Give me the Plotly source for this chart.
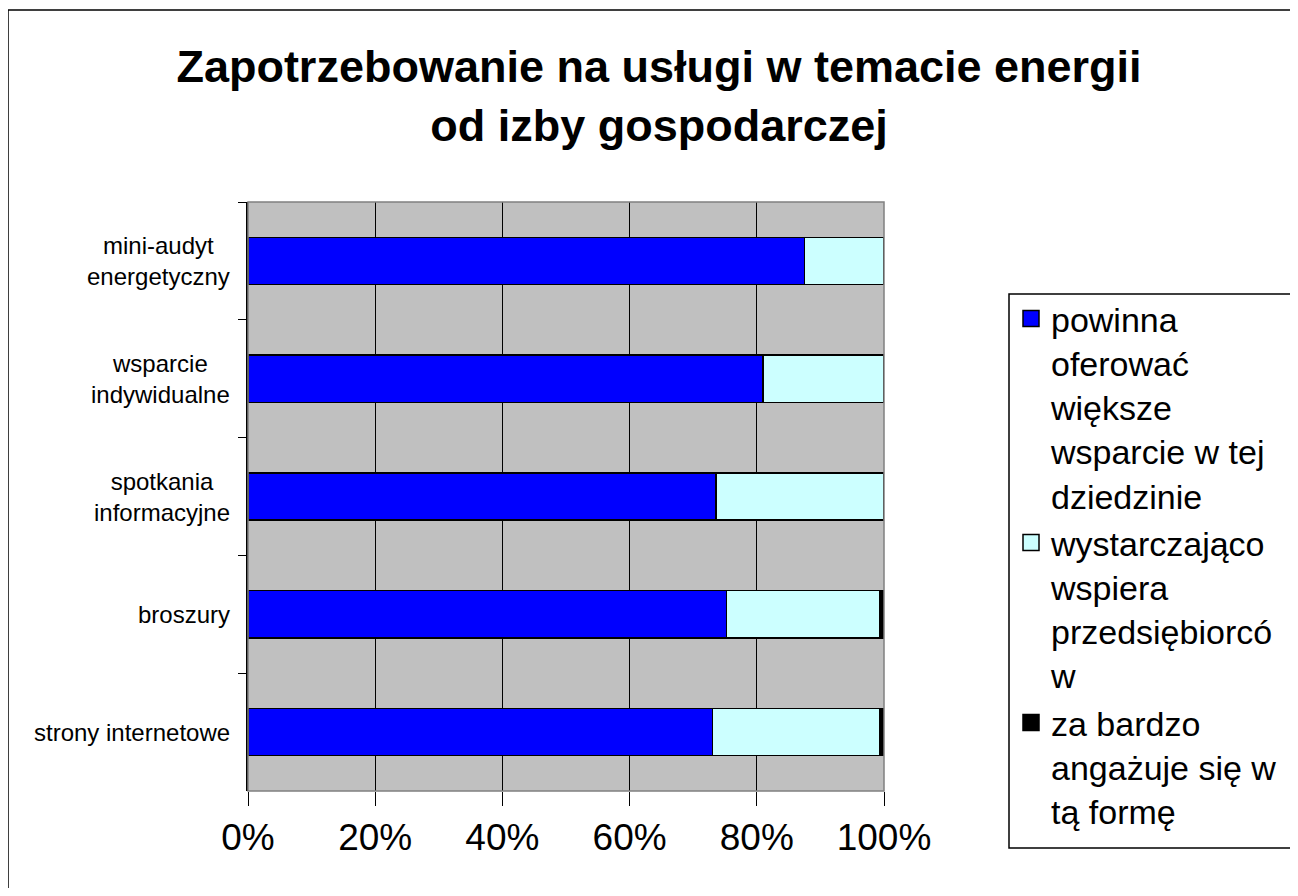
"""Zapotrzebowanie na usługi w temacie energii - horizontal 100% stacked bar."""

import plotly.graph_objects as go

categories = [
    "mini-audyt<br>energetyczny",
    "wsparcie<br>indywidualne",
    "spotkania<br>informacyjne",
    "broszury",
    "strony internetowe",
]
powinna = [87.5, 81.0, 73.6, 75.2, 73.0]
wystarczajaco = [12.5, 19.0, 26.4, 24.2, 26.4]
za_bardzo = [0.0, 0.0, 0.0, 0.6, 0.6]

series_names = [
    "powinna<br>oferować<br>większe<br>wsparcie w tej<br>dziedzinie",
    "wystarczająco<br>wspiera<br>przedsiębiorcó<br>w",
    "za bardzo<br>angażuje się w<br>tą formę",
]
series_colors = ["#0000FF", "#CCFFFF", "#000000"]

FONT = "Liberation Sans, Arial, sans-serif"

# page body adds an 8px margin, so targets are measured on screen and shifted back;
# the figure is shrunk so the page does not scroll
OFF = 8
W, H = 1298 - OFF, 896 - 2 * OFF
PL, PR, PT, PB = 248 - OFF, 884 - OFF, 202 - OFF, 791 - OFF


def px_x(px: float) -> float:
    return (px - OFF - PL) / (PR - PL)


def px_y(py: float) -> float:
    return (PB - (py - OFF)) / (PB - PT)


fig = go.Figure()
for values, color in zip([powinna, wystarczajaco, za_bardzo], series_colors):
    fig.add_trace(
        go.Bar(
            y=categories,
            x=values,
            orientation="h",
            showlegend=False,
            marker={"color": color, "line": {"color": "#000000", "width": 1.5}},
        )
    )

# legend entries with bigger square swatches than the bar default
for name, color in zip(series_names, series_colors):
    fig.add_trace(
        go.Scatter(
            x=[None],
            y=[None],
            mode="markers",
            name=name,
            marker={"symbol": "square", "size": 16, "color": color, "line": {"color": "#000000", "width": 1.5}},
        )
    )

# category labels, centred line by line like the original
for cat in categories:
    fig.add_annotation(
        x=0,
        xref="paper",
        y=cat,
        yref="y",
        text=cat,
        showarrow=False,
        xanchor="right",
        xshift=-16,
        align="center",
        font={"family": FONT, "size": 24, "color": "#000000"},
    )

# grey plot border
fig.add_shape(
    type="rect", xref="paper", yref="paper", x0=0, x1=1, y0=0, y1=1,
    line={"color": "#808080", "width": 1.5}, layer="above",
)
# outer chart frame (runs past the right and bottom edges)
fig.add_shape(
    type="rect", xref="paper", yref="paper",
    x0=px_x(8), x1=px_x(1800), y0=px_y(1400), y1=px_y(10),
    line={"color": "#000000", "width": 1.5},
)
# legend frame, cut off by the right edge like in the original
fig.add_shape(
    type="rect", xref="paper", yref="paper",
    x0=px_x(1009), x1=px_x(1800), y0=px_y(848), y1=px_y(294),
    line={"color": "#000000", "width": 1.5},
)

fig.update_layout(
    width=W,
    height=H,
    barmode="stack",
    bargap=0.6,
    paper_bgcolor="#FFFFFF",
    plot_bgcolor="#C0C0C0",
    font={"family": FONT, "color": "#000000"},
    margin={"l": PL, "r": W - PR, "t": PT, "b": H - PB, "autoexpand": False},
    title={
        "text": "<b>Zapotrzebowanie na usługi w temacie energii<br>od izby gospodarczej</b>",
        "font": {"family": FONT, "size": 45, "color": "#000000"},
        "x": (659 - OFF) / W,
        "xref": "container",
        "xanchor": "center",
        "y": 1 - 74 / H,
        "yref": "container",
        "yanchor": "top",
    },
    legend={
        "x": px_x(1011),
        "y": px_y(290),
        "xanchor": "left",
        "yanchor": "top",
        "valign": "top",
        "traceorder": "normal",
        "borderwidth": 0,
        "bgcolor": "rgba(0,0,0,0)",
        "font": {"family": FONT, "size": 34, "color": "#000000"},
    },
    xaxis={
        "range": [0, 100],
        "dtick": 20,
        "ticksuffix": "%",
        "showgrid": True,
        "gridcolor": "#000000",
        "gridwidth": 1,
        "ticks": "outside",
        "ticklen": 14,
        "tickcolor": "#000000",
        "zeroline": False,
        "tickfont": {"family": FONT, "size": 37, "color": "#000000"},
        "fixedrange": True,
    },
    yaxis={
        "autorange": "reversed",
        "showticklabels": False,
        "ticks": "outside",
        "tickson": "boundaries",
        "ticklen": 8,
        "tickcolor": "#000000",
        "showline": True,
        "linecolor": "#000000",
        "linewidth": 2,
        "showgrid": False,
        "fixedrange": True,
    },
)

fig.write_html("out.html")
